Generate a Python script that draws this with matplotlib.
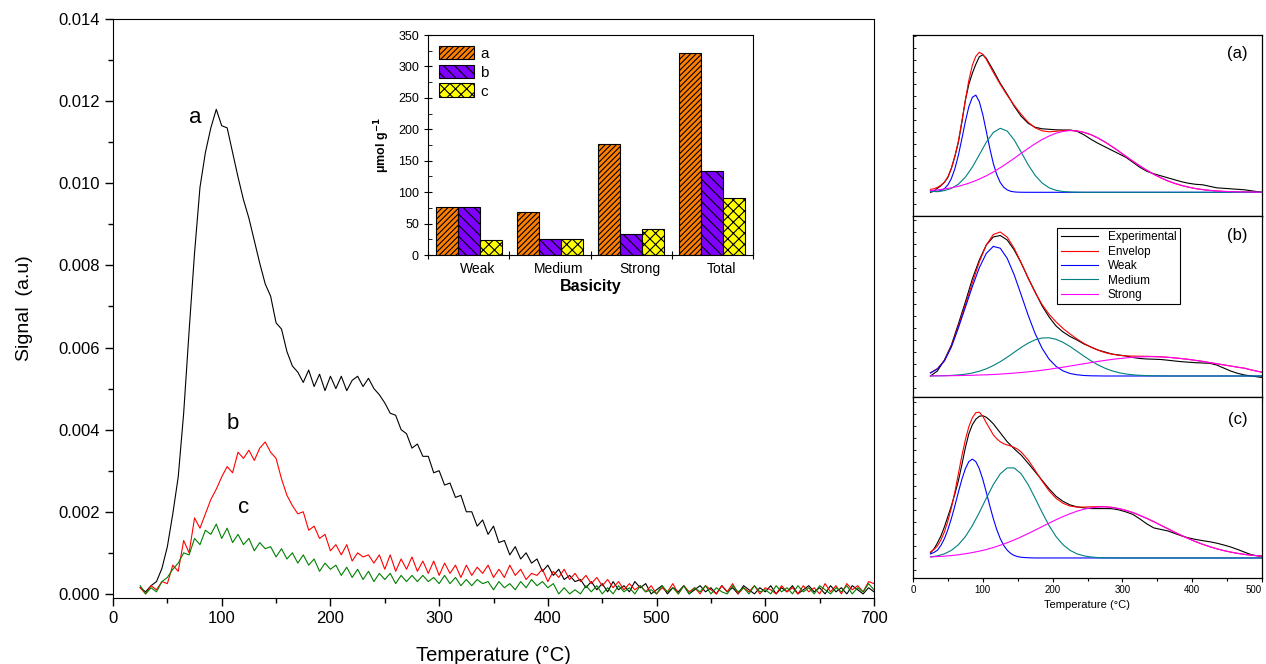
import numpy as np
import matplotlib
matplotlib.use("Agg")
import matplotlib.pyplot as plt
from matplotlib.ticker import MultipleLocator, FormatStrFormatter, NullFormatter

plt.rcParams['font.family'] = ['Liberation Sans', 'DejaVu Sans']
plt.rcParams['hatch.linewidth'] = 0.8

# ---------------- main TPD data (signal in units of 1e-3) ----------------
temp_main = np.arange(25, 705, 5)

signal_a = [
    0.15, 0.05, 0.2, 0.3, 0.62, 1.15, 1.95, 2.85, 4.4, 6.4,
    8.3, 9.9, 10.75, 11.35, 11.8, 11.4, 11.35, 10.75, 10.15, 9.6,
    9.15, 8.6, 8.05, 7.55, 7.25, 6.6, 6.45, 5.9, 5.55, 5.4,
    5.15, 5.45, 5.05, 5.35, 4.95, 5.3, 5.0, 5.3, 4.95, 5.2,
    5.3, 5.05, 5.25, 5.0, 4.85, 4.65, 4.4, 4.35, 4.0, 3.9,
    3.55, 3.65, 3.35, 3.35, 2.95, 3.0, 2.65, 2.7, 2.35, 2.4,
    2.0, 2.0, 1.65, 1.8, 1.45, 1.65, 1.25, 1.3, 0.95, 1.15,
    0.85, 1.0, 0.75, 0.85, 0.55, 0.7, 0.45, 0.6, 0.35, 0.45,
    0.3, 0.35, 0.15, 0.3, 0.1, 0.25, 0.05, 0.3, 0.1, 0.2,
    0.05, 0.3, 0.15, 0.25, 0.0, 0.1, 0.2, 0.0, 0.15, 0.05,
    0.2, 0.0, 0.1, 0.2, 0.05, 0.15, 0.0, 0.2, 0.05, 0.15,
    0.0, 0.2, 0.1, 0.0, 0.15, 0.05, 0.2, 0.0, 0.15, 0.05,
    0.2, 0.0, 0.1, 0.2, 0.05, 0.15, 0.0, 0.2, 0.05, 0.15,
    0.0, 0.2, 0.1, 0.0, 0.15, 0.05]

signal_b = [
    0.15, 0.0, 0.2, 0.1, 0.3, 0.25, 0.7, 0.55, 1.3, 1.0,
    1.85, 1.6, 1.95, 2.3, 2.55, 2.85, 3.1, 2.95, 3.45, 3.3,
    3.5, 3.25, 3.55, 3.7, 3.45, 3.3, 2.8, 2.4, 2.15, 1.95,
    2.0, 1.55, 1.65, 1.35, 1.45, 1.05, 1.2, 0.95, 1.2, 0.8,
    1.0, 0.9, 0.95, 0.75, 0.95, 0.6, 0.95, 0.55, 0.85, 0.6,
    0.9, 0.55, 0.8, 0.5, 0.8, 0.45, 0.75, 0.5, 0.7, 0.4,
    0.7, 0.45, 0.65, 0.5, 0.7, 0.4, 0.6, 0.4, 0.7, 0.45,
    0.6, 0.35, 0.5, 0.45, 0.6, 0.3, 0.55, 0.4, 0.6, 0.35,
    0.5, 0.3, 0.45, 0.25, 0.4, 0.2, 0.35, 0.15, 0.3, 0.1,
    0.25, 0.1, 0.2, 0.05, 0.2, 0.0, 0.15, 0.05, 0.25, 0.0,
    0.2, 0.05, 0.15, 0.0, 0.2, 0.1, 0.0, 0.2, 0.05, 0.25,
    0.0, 0.15, 0.05, 0.2, 0.0, 0.15, 0.1, 0.0, 0.2, 0.05,
    0.15, 0.0, 0.2, 0.05, 0.15, 0.0, 0.25, 0.05, 0.2, 0.0,
    0.25, 0.1, 0.2, 0.05, 0.3, 0.25]

signal_c = [
    0.2, 0.0, 0.15, 0.05, 0.3, 0.4, 0.6, 0.75, 1.0, 0.95,
    1.35, 1.2, 1.55, 1.45, 1.7, 1.35, 1.6, 1.25, 1.45, 1.2,
    1.35, 1.05, 1.25, 1.1, 1.15, 0.9, 1.1, 0.85, 1.0, 0.75,
    0.95, 0.7, 0.85, 0.55, 0.75, 0.6, 0.7, 0.45, 0.65, 0.4,
    0.6, 0.35, 0.55, 0.3, 0.5, 0.35, 0.5, 0.25, 0.45, 0.3,
    0.45, 0.3, 0.45, 0.3, 0.4, 0.25, 0.45, 0.25, 0.4, 0.2,
    0.35, 0.2, 0.35, 0.25, 0.3, 0.1, 0.3, 0.15, 0.25, 0.1,
    0.3, 0.15, 0.35, 0.2, 0.3, 0.15, 0.25, 0.0, 0.15, 0.0,
    0.1, 0.0, 0.2, 0.05, 0.2, 0.0, 0.15, 0.0, 0.2, 0.05,
    0.15, 0.0, 0.2, 0.05, 0.1, 0.0, 0.2, 0.05, 0.15, 0.0,
    0.2, 0.0, 0.15, 0.05, 0.2, 0.0, 0.15, 0.05, 0.0, 0.2,
    0.05, 0.15, 0.0, 0.2, 0.05, 0.1, 0.0, 0.2, 0.05, 0.15,
    0.0, 0.2, 0.05, 0.15, 0.0, 0.2, 0.1, 0.0, 0.15, 0.05,
    0.2, 0.0, 0.15, 0.05, 0.25, 0.1]

# ---------------- inset bar data ----------------
basicity_cats = ['Weak', 'Medium', 'Strong', 'Total']
basic_a = [77, 69, 176, 321]
basic_b = [76, 26, 34, 134]
basic_c = [24, 26, 41, 90]

# ---------------- deconvolution panels (arbitrary units) ----------------
temp_dec = [25, 35, 45, 55, 65, 75, 85, 95, 105, 115,
            125, 135, 145, 155, 165, 175, 185, 195, 205, 215,
            225, 235, 245, 255, 265, 275, 285, 295, 305, 315,
            325, 335, 345, 355, 365, 375, 385, 395, 405, 415,
            425, 435, 445, 455, 465, 475, 485, 495, 500]
# finer sampling of the low-temperature part (25-150 every 5 degC)
temp_head = [25, 30, 35, 40, 45, 50, 55, 60, 65, 70,
             75, 80, 85, 90, 95, 100, 105, 110, 115, 120,
             125, 130, 135, 140, 145, 150]
dec_ticks = [0, 100, 200, 300, 400, 500]

exp_a_head = [0, 1, 4, 6.5, 10, 15, 24, 36, 50, 70,
              92, 108, 119, 128, 135.5, 137.5, 134, 128, 122, 115.5,
              109, 103.5, 98, 92, 86, 81]
env_a_head = [3, 3.5, 5, 7, 10, 15.5, 24, 36, 51, 71,
              92, 112, 127, 136, 140, 138, 133, 126.5, 120, 114,
              108, 102.5, 97, 92, 87, 82.5]
weak_a_head = [1.5, 1.2, 1.0, 1.6, 3.6, 7.4, 13.8, 23.6, 37, 53.4,
               70.7, 85.6, 95, 97.2, 90.6, 77.7, 61, 44.1, 29, 17.7,
               9.8, 5.0, 2.4, 1.0, 0.4, 0.15]
exp_a_tail = [76, 69, 65, 63.5, 63, 62.5, 62.3,
              62.3, 61, 57.5, 53, 49, 45.5, 42, 38.5, 35, 30,
              25, 21, 18.5, 16.5, 14.5, 12.5, 10.5, 9, 8, 7.5,
              6, 4.5, 4, 3.5, 3, 2.5, 1.5, 0.5, 0]
env_a_tail = [78, 70, 64.5, 61.5, 60.5, 61, 61.7,
              62, 61.4, 59.9, 57.6, 54.3, 50.3, 45.8, 41.0, 36.0, 31.1,
              26.4, 22.0, 18.0, 14.5, 11.4, 8.9, 6.8, 5.1, 3.7, 2.7,
              1.9, 1.3, 0.9, 0.6, 0.4, 0.3, 0.2, 0.1, 0.1]
weak_a_tail = [0.05, 0, 0, 0, 0, 0, 0,
               0, 0, 0, 0, 0, 0, 0, 0, 0, 0,
               0, 0, 0, 0, 0, 0, 0, 0, 0, 0,
               0, 0, 0, 0, 0, 0, 0, 0, 0]
med_a = [1, 0.6, 1.7, 3.9, 8.1, 15.1, 25.2, 37.5, 50.1, 59.8,
         64, 61.2, 52.4, 40.1, 27.5, 16.9, 9.3, 4.5, 2.0, 0.8,
         0.3, 0.1, 0, 0, 0, 0, 0, 0, 0, 0,
         0, 0, 0, 0, 0, 0, 0, 0, 0, 0,
         0, 0, 0, 0, 0, 0, 0, 0, 0]
strong_a = [1.7, 2.4, 3.3, 4.5, 6.0, 8.0, 10.4, 13.2, 16.5, 20.3,
            24.6, 29.2, 34.0, 39.0, 43.9, 48.6, 52.8, 56.3, 59.1, 60.9,
            61.7, 61.3, 59.9, 57.6, 54.3, 50.3, 45.8, 41.0, 36.0, 31.1,
            26.4, 22.0, 18.0, 14.5, 11.4, 8.9, 6.8, 5.1, 3.7, 2.7,
            1.9, 1.3, 0.9, 0.6, 0.4, 0.3, 0.2, 0.1, 0.1]

exp_b = [0, 5, 16, 31, 52, 74, 97, 116, 131, 139,
         140.5, 136, 126, 113, 98, 84, 70, 59, 50, 44,
         39.5, 36, 32, 29, 26, 24, 22, 21, 20, 18.5,
         17.5, 17, 16.8, 16.5, 15.8, 15, 14.3, 13.8, 13.3, 13,
         12.7, 11, 8, 5, 2.7, 1, 0, -1, -1.5]
env_b = [3.2, 7.4, 15.5, 29.9, 49.5, 71.1, 93.0, 114.1, 131.0, 141.5,
         144.0, 138.8, 127.7, 113.2, 97.8, 83.5, 71.4, 61.7, 54.1, 47.5,
         42.0, 37.0, 32.6, 28.8, 25.8, 23.4, 21.8, 20.7, 20.1, 19.9,
         19.8, 19.7, 19.5, 19.2, 18.7, 18.1, 17.4, 16.6, 15.6, 14.6,
         13.4, 12.3, 11.1, 10.0, 8.8, 7.8, 6.0, 4.5, 3.8]
weak_b = [3, 7, 15, 29, 48, 68.7, 89.3, 108.3, 122.6, 129.6,
          127.8, 117.6, 101.1, 81.1, 60.7, 42.4, 27.6, 16.8, 9.6, 5.1,
          2.5, 1.2, 0.5, 0.2, 0.1, 0, 0, 0, 0, 0,
          0, 0, 0, 0, 0, 0, 0, 0, 0, 0,
          0, 0, 0, 0, 0, 0, 0, 0, 0]
med_b = [0.1, 0.2, 0.3, 0.6, 1.1, 1.8, 3.0, 4.8, 7.2, 10.4,
         14.3, 18.8, 23.7, 28.6, 32.9, 36.2, 38.0, 38.2, 36.7, 33.6,
         29.5, 24.7, 19.8, 15.2, 11.1, 7.8, 5.2, 3.3, 2.0, 1.2,
         0.7, 0.4, 0.2, 0.1, 0, 0, 0, 0, 0, 0,
         0, 0, 0, 0, 0, 0, 0, 0, 0]
strong_b = [0.1, 0.2, 0.2, 0.3, 0.4, 0.6, 0.7, 1.0, 1.2, 1.5,
            1.9, 2.4, 2.9, 3.5, 4.2, 4.9, 5.8, 6.7, 7.8, 8.8,
            10.0, 11.1, 12.3, 13.4, 14.6, 15.6, 16.6, 17.4, 18.1, 18.7,
            19.1, 19.3, 19.3, 19.1, 18.7, 18.1, 17.4, 16.6, 15.6, 14.6,
            13.4, 12.3, 11.1, 10.0, 8.8, 7.8, 6.0, 4.5, 3.8]

exp_c_head = [5, 9, 15, 22, 31, 41.5, 52, 64, 77, 93,
              110, 124, 133, 138.5, 141.5, 142, 140.5, 137.5, 134, 129.5,
              125, 120.5, 116, 112.5, 109, 105.8]
env_c_head = [6, 8.5, 12, 18, 26, 37, 50, 66, 84, 102,
              118, 131, 140, 145, 145.5, 141.5, 135, 129, 123, 119,
              116, 114, 112.8, 111.8, 110.4, 108.5]
weak_c_head = [4, 5.5, 7.7, 12.5, 19.3, 28.3, 39.4, 52.1, 65.6, 78.5,
               89.1, 96.2, 98.7, 96.2, 89.1, 78.5, 65.6, 52.1, 39.4, 28.3,
               19.3, 12.5, 7.7, 4.5, 2.5, 1.3]
exp_c_tail = [102.7, 94.5, 86, 77.5, 69, 61.5, 56.5,
              53, 51, 50, 49.3, 49.3, 49.3, 49.2, 48, 46, 43.5,
              39, 34, 30, 28.5, 27, 24.5, 22, 20, 18.5, 17.3,
              16.2, 14.8, 13, 11, 8.5, 5.8, 3.2, 2, 1.7]
env_c_tail = [105.8, 97.8, 87.4, 76.7, 67, 59.5, 54.6,
              51.8, 50.8, 50.8, 51.1, 51.2, 51.2, 50.5, 49.3, 47.5, 45.3,
              42.5, 39.5, 36.2, 32.7, 29.2, 25.7, 22.4, 19.2, 16.3, 13.6,
              11.3, 9.2, 7.4, 5.9, 4.6, 3.6, 2.7, 2.1, 1.8]
weak_c_tail = [0.7, 0.2, 0, 0, 0, 0, 0,
               0, 0, 0, 0, 0, 0, 0, 0, 0, 0,
               0, 0, 0, 0, 0, 0, 0, 0, 0, 0,
               0, 0, 0, 0, 0, 0, 0, 0, 0]
med_c = [1.0, 2.1, 4.1, 7.6, 13.2, 21.3, 32.2, 45.4, 59.6, 73.2,
         84.0, 89.9, 89.9, 84.0, 73.2, 59.6, 45.4, 32.2, 21.3, 13.2,
         7.6, 4.1, 2.1, 1.0, 0.4, 0.2, 0.1, 0, 0, 0,
         0, 0, 0, 0, 0, 0, 0, 0, 0, 0,
         0, 0, 0, 0, 0, 0, 0, 0, 0]
strong_c = [1.0, 1.4, 1.8, 2.4, 3.2, 4.2, 5.4, 6.8, 8.4, 10.4,
            12.7, 15.2, 18.0, 21.1, 24.4, 27.8, 31.3, 34.8, 38.2, 41.4,
            44.2, 46.7, 48.7, 50.1, 50.8, 51.0, 50.4, 49.3, 47.5, 45.3,
            42.5, 39.5, 36.2, 32.7, 29.2, 25.7, 22.4, 19.2, 16.3, 13.6,
            11.3, 9.2, 7.4, 5.9, 4.6, 3.6, 2.7, 2.1, 1.8]

# temperature axis for head+tail curves: fine head, then the coarse grid from 155 on
temp_fine = temp_head + temp_dec[13:]

W, H = 1266, 664
fig = plt.figure(figsize=(W / 100, H / 100), dpi=100)

def rect(l, t, r, b):
    return [l / W, 1 - b / H, (r - l) / W, (b - t) / H]

# ---------------- main axes ----------------
ax = fig.add_axes(rect(113, 19, 874, 598))
ax.plot(temp_main, np.array(signal_a) * 1e-3, color='black', lw=0.8)
ax.plot(temp_main, np.array(signal_b) * 1e-3, color='#ff0000', lw=0.8)
ax.plot(temp_main, np.array(signal_c) * 1e-3, color='#008000', lw=0.8)
ax.set_xlim(0, 700)
ax.set_ylim(-0.0001, 0.014)
ax.xaxis.set_major_locator(MultipleLocator(100))
ax.xaxis.set_minor_locator(MultipleLocator(50))
ax.yaxis.set_major_locator(MultipleLocator(0.002))
ax.yaxis.set_minor_locator(MultipleLocator(0.001))
ax.yaxis.set_major_formatter(FormatStrFormatter('%.3f'))
ax.tick_params(which='major', direction='out', length=6, width=1, labelsize=12)
ax.tick_params(which='minor', direction='out', length=3.5, width=1)
ax.set_xlabel('Temperature (°C)', fontsize=14.5, labelpad=14)
ax.set_ylabel('Signal  (a.u)', fontsize=14, labelpad=18)
ax.text(76, 0.0116, 'a', fontsize=16, ha='center', va='center')
ax.text(110, 0.00415, 'b', fontsize=16, ha='center', va='center')
ax.text(120, 0.0021, 'c', fontsize=16, ha='center', va='center')

# ---------------- inset bar chart ----------------
axi = fig.add_axes(rect(428, 35, 753, 255))
axi.set_facecolor('white')
xpos = np.arange(1, len(basicity_cats) + 1)
bw = 0.27
axi.bar(xpos - bw, basic_a, bw, color='#ff8000', edgecolor='black', hatch='//////', lw=0.8, label='a')
axi.bar(xpos, basic_b, bw, color='#8000ff', edgecolor='black', hatch='\\\\\\', lw=0.8, label='b')
axi.bar(xpos + bw, basic_c, bw, color='#ffff00', edgecolor='black', hatch='xxx', lw=0.8, label='c')
axi.set_xlim(0.5, 4.5)
axi.set_ylim(0, 350)
axi.yaxis.set_major_locator(MultipleLocator(50))
axi.yaxis.set_minor_locator(MultipleLocator(25))
axi.set_xticks([0.5, 1.5, 2.5, 3.5, 4.5])
axi.set_xticklabels([])
axi.set_xticks(xpos + 0.11, minor=True)
axi.set_xticklabels(basicity_cats, minor=True)
axi.tick_params(axis='x', which='minor', length=0, labelsize=10, pad=5)
axi.tick_params(axis='x', which='major', direction='inout', length=6)
axi.tick_params(axis='y', which='major', direction='inout', length=6, labelsize=9)
axi.tick_params(axis='y', which='minor', direction='in', length=3)
axi.set_xlabel('Basicity', fontsize=11.5, fontweight='bold', labelpad=2)
axi.set_ylabel('μmol g$^{\\mathbf{-1}}$', fontsize=9, fontweight='bold', labelpad=4)
axi.legend(loc='upper left', frameon=False, fontsize=11, handlelength=2.3,
           handleheight=1.0, labelspacing=0.25, borderaxespad=0.3, handletextpad=0.4)

# ---------------- deconvolution panels ----------------
panels = [
    (rect(913, 35, 1262, 216), (-23.7, 157.3),
     (temp_fine, exp_a_head + exp_a_tail), (temp_fine, env_a_head + env_a_tail),
     (temp_fine, weak_a_head + weak_a_tail), (temp_dec, med_a), (temp_dec, strong_a), '(a)', 0.90),
    (rect(913, 216, 1262, 397), (-21, 160),
     (temp_dec, exp_b), (temp_dec, env_b), (temp_dec, weak_b), (temp_dec, med_b), (temp_dec, strong_b),
     '(b)', 0.895),
    (rect(913, 397, 1262, 578), (-20, 160.7),
     (temp_fine, exp_c_head + exp_c_tail), (temp_fine, env_c_head + env_c_tail),
     (temp_fine, weak_c_head + weak_c_tail), (temp_dec, med_c), (temp_dec, strong_c), '(c)', 0.873),
]
for i, (r, yl, e, en, wk, md, st, lab, ly) in enumerate(panels):
    axd = fig.add_axes(r)
    axd.plot(*e, color='black', lw=0.8, label='Experimental')
    axd.plot(*en, color='#ff0000', lw=0.8, label='Envelop')
    axd.plot(*wk, color='#0000ff', lw=0.8, label='Weak')
    axd.plot(*md, color='#008080', lw=0.8, label='Medium')
    axd.plot(*st, color='#ff00ff', lw=0.8, label='Strong')
    axd.set_xlim(0, 500)
    axd.set_ylim(*yl)
    axd.yaxis.set_major_locator(MultipleLocator(12))
    axd.yaxis.set_major_formatter(NullFormatter())
    axd.tick_params(axis='y', direction='in', length=2, width=0.6)
    axd.set_xticks(dec_ticks)
    axd.xaxis.set_minor_locator(MultipleLocator(50))
    axd.tick_params(axis='x', which='major', direction='out', length=3, width=0.8, labelsize=7, pad=2)
    axd.tick_params(axis='x', which='minor', direction='out', length=2, width=0.8)
    for s in axd.spines.values():
        s.set_linewidth(0.9)
    axd.text(0.93, ly, lab, transform=axd.transAxes, fontsize=12, ha='center', va='center')
    if i < 2:
        axd.set_xticklabels([])
    else:
        tl = axd.set_xticklabels([str(t) for t in dec_ticks])
        tl[-1].set_horizontalalignment('right')
        axd.set_xlabel('Temperature (°C)', fontsize=8, labelpad=4)
    if i == 1:
        leg = axd.legend(loc='upper left', bbox_to_anchor=(0.413, 0.934), borderaxespad=0,
                         fontsize=8.5, handlelength=3.2, labelspacing=0.2, fancybox=False,
                         framealpha=1, edgecolor='black', borderpad=0.3, handletextpad=0.8)
        leg.get_frame().set_linewidth(0.8)

fig.savefig('out.png', dpi=100)
